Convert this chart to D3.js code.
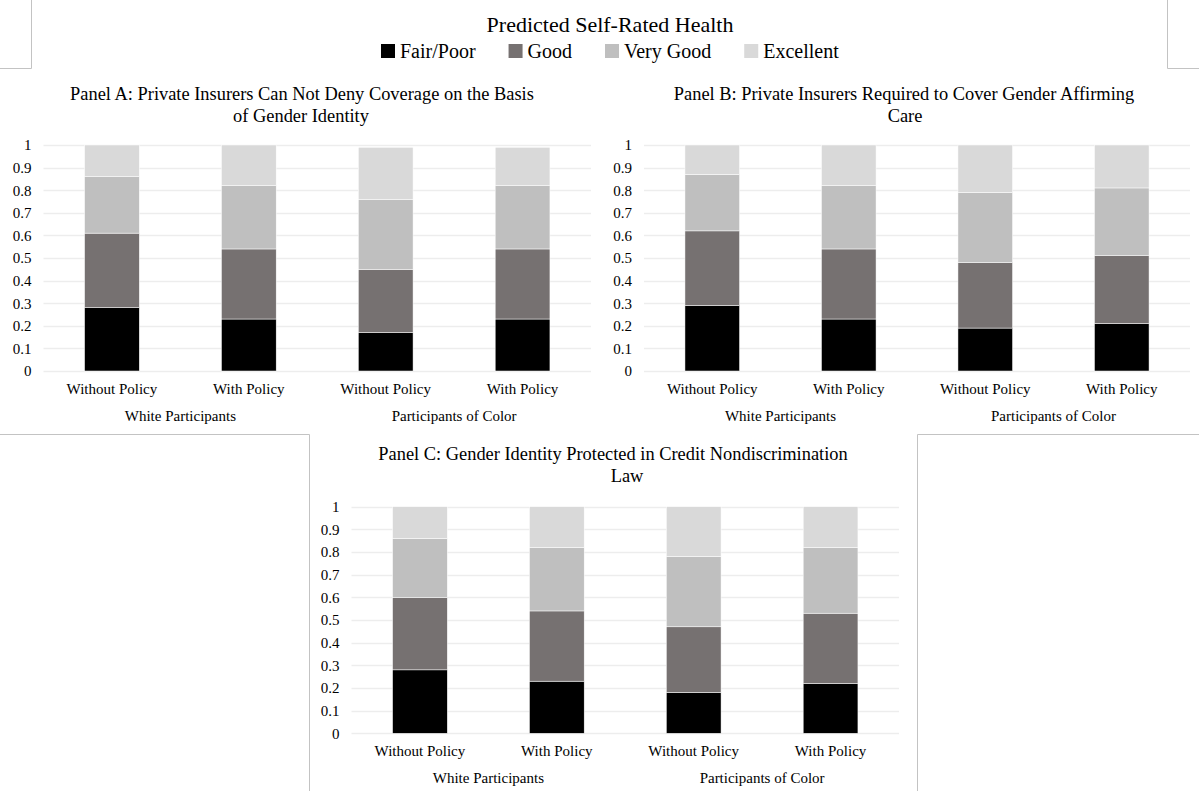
<!DOCTYPE html>
<html>
<head>
<meta charset="utf-8">
<script src="https://cdn.jsdelivr.net/npm/d3@7"></script>
<style>
  html, body { margin: 0; padding: 0; background: #ffffff; }
  svg { display: block; }
  text { font-family: "Liberation Serif", "Times New Roman", serif; fill: #000000; }
</style>
</head>
<body>
<svg id="chart" width="1199" height="791"></svg>
<script>
// ---- data ----
const chartTitle = "Predicted Self-Rated Health";
const seriesNames = ["Fair/Poor", "Good", "Very Good", "Excellent"];
const seriesColors = ["#000000", "#767171", "#bfbfbf", "#d9d9d9"];
const categories = ["Without Policy", "With Policy", "Without Policy", "With Policy"];
const groupLabels = ["White Participants", "Participants of Color"];
const yTicks = [0, 0.1, 0.2, 0.3, 0.4, 0.5, 0.6, 0.7, 0.8, 0.9, 1];
const yTickLabels = ["0", "0.1", "0.2", "0.3", "0.4", "0.5", "0.6", "0.7", "0.8", "0.9", "1"];

const panelATitle = ["Panel A: Private Insurers Can Not Deny Coverage on the Basis", "of Gender Identity"];
const panelAFairPoor = [0.28, 0.23, 0.17, 0.23];
const panelAGood = [0.33, 0.31, 0.28, 0.31];
const panelAVeryGood = [0.25, 0.28, 0.31, 0.28];
const panelAExcellent = [0.14, 0.18, 0.23, 0.17];

const panelBTitle = ["Panel B: Private Insurers Required to Cover Gender Affirming", "Care"];
const panelBFairPoor = [0.29, 0.23, 0.19, 0.21];
const panelBGood = [0.33, 0.31, 0.29, 0.30];
const panelBVeryGood = [0.25, 0.28, 0.31, 0.30];
const panelBExcellent = [0.13, 0.18, 0.21, 0.19];

const panelCTitle = ["Panel C: Gender Identity Protected in Credit Nondiscrimination", "Law"];
const panelCFairPoor = [0.28, 0.23, 0.18, 0.22];
const panelCGood = [0.32, 0.31, 0.29, 0.31];
const panelCVeryGood = [0.26, 0.28, 0.31, 0.29];
const panelCExcellent = [0.14, 0.18, 0.22, 0.18];

// ---- layout ----
const svg = d3.select("#chart");
const borderColor = "#c3c3c3";

// frame lines
const frameLines = [
  [31.5, 0, 31.5, 68.5], [0, 68.5, 31.5, 68.5],
  [1167.5, 0, 1167.5, 68.5], [1167.5, 68.5, 1199, 68.5],
  [0, 434.5, 309.5, 434.5], [309.5, 434.5, 309.5, 791],
  [917.5, 434.5, 1199, 434.5], [917.5, 434.5, 917.5, 791]
];
svg.append("g").selectAll("line").data(frameLines).join("line")
  .attr("x1", d => d[0]).attr("y1", d => d[1]).attr("x2", d => d[2]).attr("y2", d => d[3])
  .attr("stroke", borderColor).attr("stroke-width", 1);

// title
svg.append("text").attr("x", 610).attr("y", 32).attr("text-anchor", "middle")
  .style("font-size", "22px").text(chartTitle);

// legend
const legend = svg.append("g");
let lx = 381;
seriesNames.forEach((name, i) => {
  legend.append("rect").attr("x", lx).attr("y", 44).attr("width", 14).attr("height", 14)
    .attr("fill", seriesColors[i]);
  const t = legend.append("text").attr("x", lx + 19).attr("y", 58)
    .style("font-size", "20px").text(name);
  lx = lx + 19 + t.node().getComputedTextLength() + 33;
});

function drawPanel(cfg) {
  const g = svg.append("g");
  const x = d3.scaleBand().domain(d3.range(categories.length))
    .range([cfg.x0, cfg.x1]).paddingInner(0.6).paddingOuter(0.3);
  const y = d3.scaleLinear().domain([0, 1]).range([cfg.yb, cfg.yt]);

  // title
  cfg.title.forEach((line, i) => {
    g.append("text").attr("x", cfg.titleX[i]).attr("y", cfg.titleY + i * 21.7)
      .attr("text-anchor", "middle").style("font-size", "18.4px").text(line);
  });

  // gridlines
  g.append("g").selectAll("line").data(yTicks).join("line")
    .attr("x1", cfg.x0).attr("x2", cfg.x1)
    .attr("y1", d => Math.round(y(d)) + 0.5).attr("y2", d => Math.round(y(d)) + 0.5)
    .attr("stroke", "#ededed").attr("stroke-width", 1.3);

  // y axis labels
  const yAxis = d3.axisLeft(y).tickValues(yTicks).tickSize(0).tickPadding(12)
    .tickFormat((d, i) => yTickLabels[i]);
  const ya = g.append("g").attr("transform", `translate(${cfg.x0},0)`).call(yAxis);
  ya.select(".domain").remove();
  ya.selectAll("text").style("font-size", "15px").style("font-family", "'Liberation Serif', serif").attr("fill", "#000");

  // stacked bars
  const rows = categories.map((c, i) => {
    const o = { idx: i };
    seriesNames.forEach((s, k) => { o[s] = cfg.series[k][i]; });
    return o;
  });
  const stacked = d3.stack().keys(seriesNames)(rows);
  g.append("g").selectAll("g").data(stacked).join("g")
    .attr("fill", (d, k) => seriesColors[k])
    .selectAll("rect").data(d => d).join("rect")
    .attr("x", d => x(d.data.idx)).attr("width", x.bandwidth())
    .attr("y", d => y(d[1])).attr("height", d => y(d[0]) - y(d[1]))
    .attr("stroke", "#ffffff").attr("stroke-width", 0.5);

  // category labels
  g.append("g").selectAll("text").data(categories).join("text")
    .attr("x", (d, i) => x(i) + x.bandwidth() / 2).attr("y", cfg.yb + 23)
    .attr("text-anchor", "middle").style("font-size", "15px").text(d => d);

  // group labels
  g.append("g").selectAll("text").data(groupLabels).join("text")
    .attr("x", (d, j) => (x(2 * j) + x(2 * j + 1) + x.bandwidth()) / 2).attr("y", cfg.yb + 50)
    .attr("text-anchor", "middle").style("font-size", "15px").text(d => d);
}

drawPanel({ x0: 43.5, x1: 591, yt: 145, yb: 371, title: panelATitle, titleX: [302, 301], titleY: 100,
  series: [panelAFairPoor, panelAGood, panelAVeryGood, panelAExcellent] });
drawPanel({ x0: 644, x1: 1190, yt: 145, yb: 371, title: panelBTitle, titleX: [904, 905], titleY: 100,
  series: [panelBFairPoor, panelBGood, panelBVeryGood, panelBExcellent] });
drawPanel({ x0: 351.5, x1: 899, yt: 506.7, yb: 733.3, title: panelCTitle, titleX: [613, 627], titleY: 460,
  series: [panelCFairPoor, panelCGood, panelCVeryGood, panelCExcellent] });
</script>
</body>
</html>
